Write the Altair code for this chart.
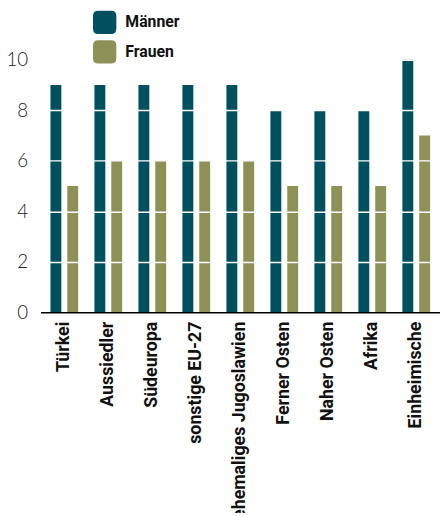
import altair as alt
import pandas as pd

regions = ["Türkei", "Aussiedler", "Südeuropa", "sonstige EU-27",
           "ehemaliges Jugoslawien", "Ferner Osten", "Naher Osten", "Afrika", "Einheimische"]
maenner = [9, 9, 9, 9, 9, 8, 8, 8, 10]
frauen = [5, 6, 6, 6, 6, 5, 5, 5, 7]
groups = ["Männer", "Frauen"]
colors = ["#01505F", "#8E9156"]

rows = []
for r, m, f in zip(regions, maenner, frauen):
    rows.append({"Region": r, "Gruppe": "Männer", "Wert": m})
    rows.append({"Region": r, "Gruppe": "Frauen", "Wert": f})
df = pd.DataFrame(rows)

rounded = "M-0.55,-1 H0.55 Q1,-1 1,-0.55 V0.55 Q1,1 0.55,1 H-0.55 Q-1,1 -1,0.55 V-0.55 Q-1,-1 -0.55,-1 Z"
cond_font = "Roboto, sans-serif"

chart = alt.Chart(df).mark_bar().encode(
    x=alt.X("Region:N", sort=regions, title=None,
            scale=alt.Scale(paddingInner=0.37, paddingOuter=0.225),
            axis=alt.Axis(labelAngle=-90, labelAlign="right", labelBaseline="middle",
                          labelFont=cond_font, labelFontSize=18, labelFontWeight="bold",
                          labelColor="#111", labelPadding=9, labelLimit=400,
                          ticks=False, domainColor="#000", domainWidth=1.5, zindex=2)),
    xOffset=alt.XOffset("Gruppe:N", sort=groups,
                        scale=alt.Scale(paddingInner=0.353, paddingOuter=0)),
    y=alt.Y("Wert:Q", title=None, scale=alt.Scale(domain=[0, 10], nice=False),
            axis=alt.Axis(values=[0, 2, 4, 6, 8, 10], ticks=False, domain=False,
                          grid=True, gridColor="white", gridWidth=1.5, zindex=1,
                          labelFont="Lato, Open Sans, sans-serif", labelFontWeight=300,
                          labelFontSize=19, labelColor="#222", labelPadding=13,
                          labelAlign="right", minExtent=33, maxExtent=33)),
    color=alt.Color("Gruppe:N", sort=groups,
                    scale=alt.Scale(domain=groups, range=colors),
                    legend=alt.Legend(title=None, orient="none", legendX=53, legendY=-50,
                                      symbolType=rounded, symbolSize=560,
                                      symbolStrokeWidth=0, symbolOpacity=1,
                                      labelFont=cond_font, labelFontSize=16,
                                      labelFontWeight="bold", labelColor="#111",
                                      labelOffset=9, rowPadding=6, zindex=5)),
).properties(
    width=405, height=256,
    autosize=alt.AutoSizeParams(type="none"),
    padding={"left": 33, "top": 49, "right": 0, "bottom": 200},
).configure_view(stroke=None)

chart.save("out.html", embed_options={"renderer": "svg", "actions": False})
